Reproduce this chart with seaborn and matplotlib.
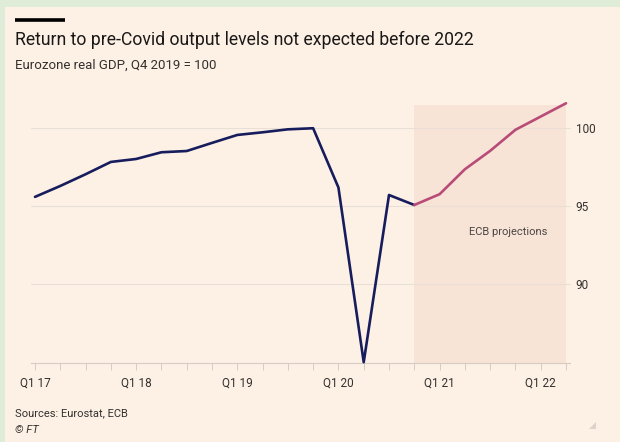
import numpy as np
import pandas as pd
import matplotlib
matplotlib.use("Agg")
import matplotlib.pyplot as plt
from matplotlib.patches import Rectangle, Polygon
import seaborn as sns

# ---- data ----
tick_labels = ["Q1 17", "Q1 18", "Q1 19", "Q1 20", "Q1 21", "Q1 22"]
actual_q = list(range(0, 16))          # Q1 2017 .. Q4 2020
actual_gdp = [95.6, 96.3, 97.05, 97.84, 98.03, 98.46, 98.54, 99.06,
              99.57, 99.74, 99.93, 100.0, 96.2, 85.0, 95.72, 95.08]
proj_q = list(range(15, 22))           # Q4 2020 .. Q2 2022
proj_gdp = [95.08, 95.77, 97.37, 98.55, 99.9, 100.75, 101.6]
y_ticks = [90, 95, 100]

W, H = 620, 442
BG = "#FDF1E6"
GREEN = "#DFEDD8"
SHADE = "#F8E4D7"
NAVY = "#171C5C"
PINK = "#B84B77"
GRID = "#EADFD5"
AXC = "#D6CCC2"
TXT = "#33302E"

sns.set_theme(style="white")
plt.rcParams["font.family"] = ["Roboto", "DejaVu Sans"]

fig = plt.figure(figsize=(W / 100, H / 100), dpi=100)
fig.patch.set_facecolor(GREEN)
fig.patches.append(Rectangle((5 / W, 0), 1 - 5 / W, 1 - 7 / H, transform=fig.transFigure,
                             facecolor=BG, edgecolor="none", zorder=-10))

def fy(y):
    return 1 - y / H

def fx(x):
    return x / W

# top black bar
fig.lines.append(plt.Line2D([fx(15), fx(65)], [fy(20), fy(20)], transform=fig.transFigure,
                            color="black", lw=2.6, solid_capstyle="butt"))

# axes
ax_left, ax_right, ax_top, ax_bot = 31, 570, 105, 363
ax = fig.add_axes([fx(ax_left), fy(ax_bot), (ax_right - ax_left) / W, (ax_bot - ax_top) / H])
ax.set_facecolor("none")
ax.set_zorder(5)

per_q = (566 - 35) / 21.0
ax.set_xlim(-(35 - ax_left) / per_q, 21 + (ax_right - 566) / per_q)
ax.set_ylim(84.95, 101.49)

ax.axvspan(15, 21, color=SHADE, zorder=0, lw=0)
for yv in y_ticks:
    ax.axhline(yv, color=GRID, lw=0.8, zorder=1)

df_a = pd.DataFrame({"q": actual_q, "gdp": actual_gdp})
df_p = pd.DataFrame({"q": proj_q, "gdp": proj_gdp})
sns.lineplot(data=df_a, x="q", y="gdp", ax=ax, color=NAVY, lw=1.9, zorder=3)
sns.lineplot(data=df_p, x="q", y="gdp", ax=ax, color=PINK, lw=1.9, zorder=3)
for ln in ax.lines:
    ln.set_clip_on(False)

ax.text(18.7, 93.35, "ECB projections", ha="center", va="center", fontsize=8, color="#4A4542")

# spines / ticks
for s in ["top", "right", "left"]:
    ax.spines[s].set_visible(False)
ax.spines["bottom"].set_color(AXC)
ax.spines["bottom"].set_linewidth(0.8)

ax.set_xticks(range(0, 22))
ax.set_xticklabels([tick_labels[i // 4] if i % 4 == 0 else "" for i in range(22)])
ax.tick_params(axis="x", bottom=True, length=5, width=0.7, color=AXC, labelsize=8.5,
               labelcolor=TXT, pad=5)
ax.yaxis.tick_right()
ax.set_yticks(y_ticks)
ax.set_yticklabels([str(v) for v in y_ticks])
ax.tick_params(axis="y", right=False, length=0, labelsize=8.5, labelcolor=TXT, pad=4)
ax.set_xlabel("")
ax.set_ylabel("")
ax.grid(False)

# texts
fig.text(fx(15), fy(40), "Return to pre-Covid output levels not expected before 2022",
         fontsize=12.7, color="#1A1817", va="center", ha="left")
fig.text(fx(15), fy(65), "Eurozone real GDP, Q4 2019 = 100", fontsize=9.5, color=TXT,
         va="center", ha="left")
fig.text(fx(15), fy(413), "Sources: Eurostat, ECB", fontsize=8, color=TXT, va="center", ha="left")
fig.text(fx(15), fy(430), "\u00a9 FT", fontsize=8, color=TXT, va="center", ha="left", style="italic")

# small resize mark
fig.patches.append(Polygon([[fx(589), fy(429)], [fx(596), fy(429)], [fx(596), fy(422)]],
                           closed=True, transform=fig.transFigure, facecolor="#DDD3CA",
                           edgecolor="none"))

fig.savefig("out.png", dpi=100, facecolor=fig.get_facecolor())
